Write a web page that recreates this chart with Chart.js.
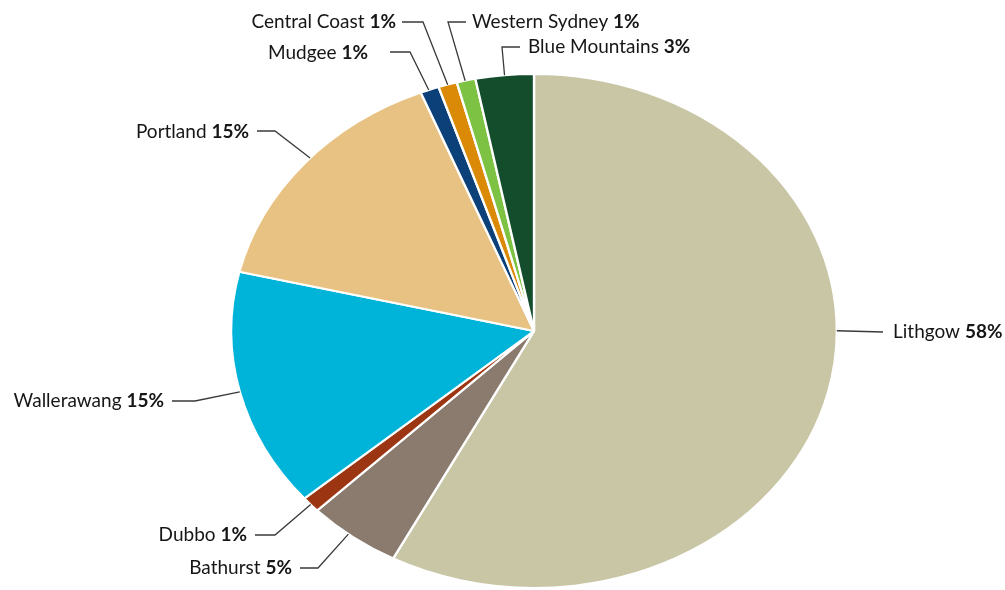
<!DOCTYPE html>
<html><head><meta charset="utf-8">
<script src="https://cdn.jsdelivr.net/npm/chart.js@4.4.1/dist/chart.umd.min.js"></script>
<style>html,body{margin:0;padding:0;background:#fff;}#wrap{width:1005px;height:590px;position:relative;}</style>
</head><body><div id="wrap"><canvas id="c" width="1005" height="590"></canvas></div>
<script>
const categories = ['Lithgow','Bathurst','Dubbo','Wallerawang','Portland','Mudgee','Central Coast','Western Sydney','Blue Mountains'];
const shares = [57.7, 5.0, 1.0, 15.0, 15.2, 1.0, 1.0, 1.0, 3.1];
const colors = ['#C9C6A6','#8B7B6E','#9B3512','#00B3D9','#E8C282','#0B4079','#DA8A06','#7DC242','#134D2B'];

// label layout: text anchor, alignment, leader polyline (elbow points), position along slice (t)
const labelLayout = [
  {x:893, y:332, align:'left',  pts:[[883,332]], t:0.433},
  {x:292, y:568, align:'right', pts:[[318,568],[300,568]], t:0.56},
  {x:247, y:535, align:'right', pts:[[275,535],[255,535]], t:0.5},
  {x:164, y:401, align:'right', pts:[[195,401],[172,401]], t:0.5},
  {x:249, y:132, align:'right', pts:[[275,131],[257,131]], t:0.53},
  {x:368, y:53,  align:'right', pts:[[410,52],[390,52]], t:0.45},
  {x:396, y:22,  align:'right', pts:[[423,22],[402,22]], t:0.5},
  {x:472, y:22,  align:'left',  pts:[[448,22],[466,22]], t:0.45},
  {x:528, y:47,  align:'left',  pts:[[502,47],[520,47]], t:0.5}
];
const SX = 304/258; // horizontal stretch -> ellipse
const FONT = 'Lato, "Open Sans", sans-serif';
const FS = 19;

const ellipsePlugin = {
  id:'ellipse',
  beforeDatasetsDraw(chart){
    const a = chart.getDatasetMeta(0).data[0];
    const ctx = chart.ctx;
    ctx.save();
    ctx.translate(a.x, a.y); ctx.scale(SX,1); ctx.translate(-a.x,-a.y);
  },
  afterDatasetsDraw(chart){
    chart.ctx.restore();
    const ctx = chart.ctx;
    const meta = chart.getDatasetMeta(0);
    const data = chart.data.datasets[0].data;
    const total = data.reduce((s,v)=>s+v,0);
    ctx.save();
    meta.data.forEach((arc,i)=>{
      const L = labelLayout[i];
      const ang = arc.startAngle + (arc.endAngle-arc.startAngle)*L.t;
      const ex = arc.x + Math.cos(ang)*arc.outerRadius*SX;
      const ey = arc.y + Math.sin(ang)*arc.outerRadius;
      ctx.beginPath();
      ctx.moveTo(ex,ey);
      L.pts.forEach(p=>ctx.lineTo(p[0],p[1]));
      ctx.strokeStyle='#3a3a3a'; ctx.lineWidth=1.3; ctx.stroke();
      const name = chart.data.labels[i]+' ';
      const pct = Math.round(data[i]/total*100)+'%';
      ctx.textBaseline='middle';
      ctx.fillStyle='#161616';
      ctx.font = FS+'px '+FONT; const w1 = ctx.measureText(name).width;
      ctx.font = 'bold '+FS+'px '+FONT; const w2 = ctx.measureText(pct).width;
      let x0 = L.align==='left' ? L.x : L.x - w1 - w2;
      ctx.textAlign='left';
      ctx.font = FS+'px '+FONT; ctx.fillText(name, x0, L.y);
      ctx.font = 'bold '+FS+'px '+FONT; ctx.fillText(pct, x0+w1, L.y);
    });
    ctx.restore();
  }
};

new Chart(document.getElementById('c'), {
  type:'pie',
  data:{labels:categories, datasets:[{data:shares, backgroundColor:colors, borderColor:'#ffffff', borderWidth:2}]},
  options:{
    responsive:false, animation:false,
    layout:{padding:{top:72,bottom:0,left:276,right:213}},
    plugins:{legend:{display:false}, tooltip:{enabled:false}}
  },
  plugins:[ellipsePlugin]
});
</script></body></html>
